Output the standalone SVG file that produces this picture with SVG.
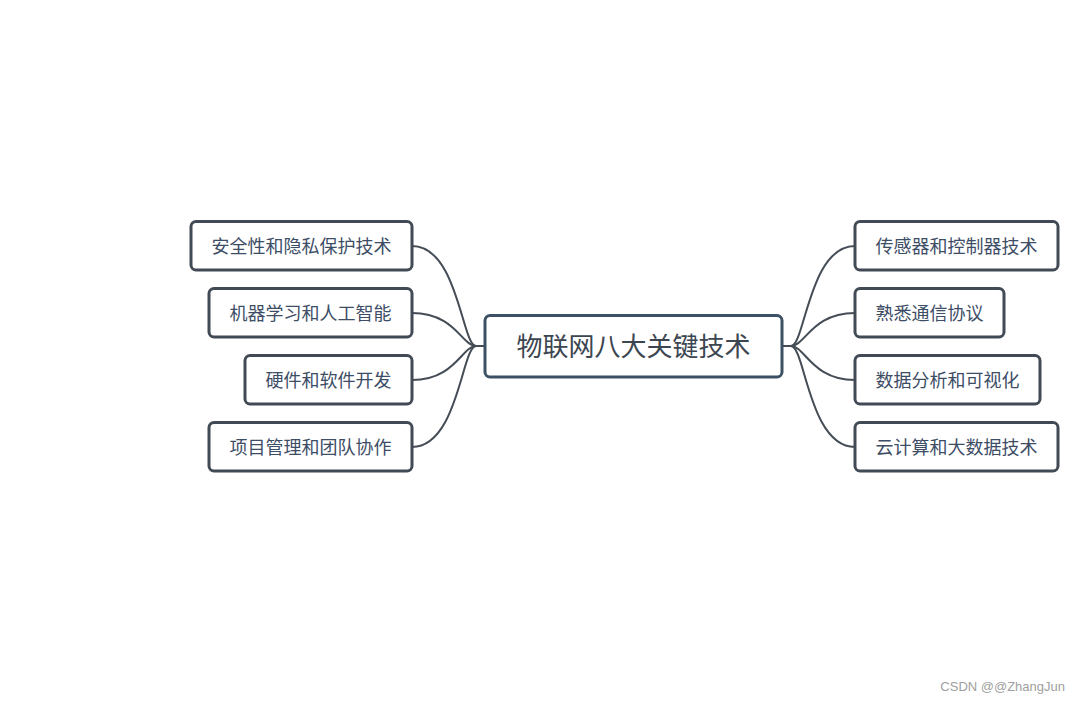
<svg xmlns="http://www.w3.org/2000/svg" width="1080" height="703" viewBox="0 0 1080 703">
<style>
.box{fill:#fff;stroke:#424b55;stroke-width:3}
.main{fill:#fff;stroke:#3c5163;stroke-width:3}
.t{font-family:"Noto Sans CJK SC","Noto Sans",sans-serif;font-size:18px;fill:#3d4d66;text-anchor:middle}
.mt{font-family:"Noto Sans CJK SC","Noto Sans",sans-serif;font-size:26px;fill:#3c4650;text-anchor:middle}
.c{fill:none;stroke:#444c55;stroke-width:2}
</style>
<rect width="1080" height="703" fill="#fff"/>
<g id="connectors">
<path class="c" d="M485 346 H476"/>
<path class="c" d="M782 346 H791"/>
<path class="c" d="M412 246 C458 246 462 346 476 346"/>
<path class="c" d="M412 313 C455 313 462 346 476 346"/>
<path class="c" d="M412 380 C455 380 462 346 476 346"/>
<path class="c" d="M412 447 C458 447 462 346 476 346"/>
<path class="c" d="M855 246 C809 246 805 346 791 346"/>
<path class="c" d="M855 313 C812 313 805 346 791 346"/>
<path class="c" d="M855 380 C812 380 805 346 791 346"/>
<path class="c" d="M855 447 C809 447 805 346 791 346"/>
</g>
<g id="center"><rect class="main" x="485" y="315.5" width="297" height="61.5" rx="5"/><text class="mt" x="633.5" y="356">物联网八大关键技术</text></g>
<g id="l1"><rect class="box" x="191" y="221.5" width="221" height="48.5" rx="5"/><text class="t" x="301.5" y="252.5">安全性和隐私保护技术</text></g>
<g id="l2"><rect class="box" x="209" y="288.5" width="203" height="48.5" rx="5"/><text class="t" x="310.5" y="319.5">机器学习和人工智能</text></g>
<g id="l3"><rect class="box" x="245" y="355.5" width="167" height="48.5" rx="5"/><text class="t" x="328.5" y="386.5">硬件和软件开发</text></g>
<g id="l4"><rect class="box" x="209" y="422.5" width="203" height="48.5" rx="5"/><text class="t" x="310.5" y="453.5">项目管理和团队协作</text></g>
<g id="r1"><rect class="box" x="855" y="221.5" width="203" height="48.5" rx="5"/><text class="t" x="956.5" y="252.5">传感器和控制器技术</text></g>
<g id="r2"><rect class="box" x="855" y="288.5" width="149" height="48.5" rx="5"/><text class="t" x="929.5" y="319.5">熟悉通信协议</text></g>
<g id="r3"><rect class="box" x="855" y="355.5" width="185" height="48.5" rx="5"/><text class="t" x="947.5" y="386.5">数据分析和可视化</text></g>
<g id="r4"><rect class="box" x="855" y="422.5" width="203" height="48.5" rx="5"/><text class="t" x="956.5" y="453.5">云计算和大数据技术</text></g>
<text x="1065" y="691" font-family="'Liberation Sans',sans-serif" font-size="13" fill="#a0a0a0" text-anchor="end">CSDN @@ZhangJun</text>
</svg>
